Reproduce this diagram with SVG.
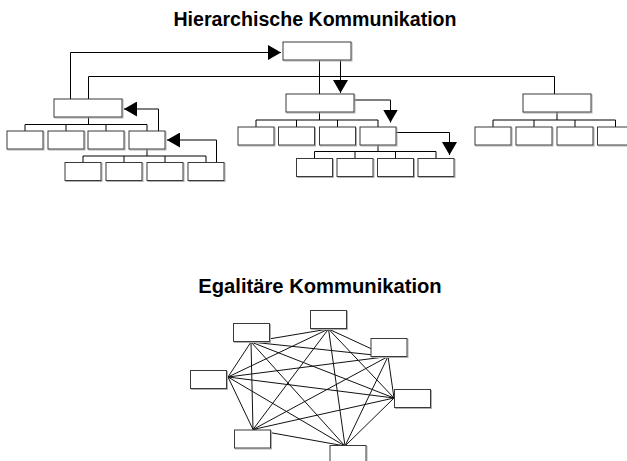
<svg xmlns="http://www.w3.org/2000/svg" width="627" height="461" viewBox="0 0 627 461">
  <style>
    .title { font-family: "Liberation Sans", Arial, sans-serif; font-weight: bold; fill: #000; text-anchor: middle; }
    .box { fill: #fff; stroke: #3a3a3a; stroke-width: 1; }
    .shadow { fill: none; stroke: #b0b0b0; stroke-width: 1; }
    .wire { fill: none; stroke: #000; stroke-width: 1; }
    .arrow { fill: none; stroke: #000; stroke-width: 1; marker-end: url(#head); }
    .mesh line { stroke: #111; stroke-width: 1; }
  </style>
  <defs>
    <marker id="head" viewBox="0 0 13 15" refX="13" refY="7.5" markerWidth="13" markerHeight="15" markerUnits="userSpaceOnUse" orient="auto">
      <path d="M0,0 L13,7.5 L0,15 Z" fill="#000"/>
    </marker>
    <g id="boxS">
      <rect class="shadow" x="1" y="1" width="36" height="18"/>
      <rect class="box" x="0" y="0" width="36" height="18"/>
    </g>
    <g id="boxL">
      <rect class="shadow" x="1" y="1" width="68" height="18"/>
      <rect class="box" x="0" y="0" width="68" height="18"/>
    </g>
  </defs>

  <rect width="627" height="461" fill="#fff"/>

  <text class="title" x="315" y="25.7" font-size="19.6">Hierarchische Kommunikation</text>
  <text class="title" x="320" y="293.3" font-size="20.2">Egalitäre Kommunikation</text>

  <!-- hierarchy: connectors -->
  <g id="hierarchy-connectors">
    <path class="wire" d="M319.5,60 V94"/>
    <path class="wire" d="M88.5,99 V76.5 H554.5 V94"/>
    <!-- left branch -->
    <path class="wire" d="M88.5,117 V124.5 M25,131 V124.5 H147 V131 M66,124.5 V131 M106,124.5 V131"/>
    <path class="wire" d="M147,149 V156 M83,162.5 V156 H206 V162.5 M124,156 V162.5 M165,156 V162.5"/>
    <!-- middle branch -->
    <path class="wire" d="M319.5,112 V120 M256,127 V120 H378 V127 M296.5,120 V127 M337.5,120 V127"/>
    <path class="wire" d="M378,145 V151.5 M314.5,158.5 V151.5 H436 V158.5 M355,151.5 V158.5 M395.5,151.5 V158.5"/>
    <!-- right branch -->
    <path class="wire" d="M557,112 V120 M493,127 V120 H615.5 V127 M534,120 V127 M575,120 V127"/>
    <!-- arrows -->
    <path class="arrow" d="M70.5,99 V52.5 H281"/>
    <path class="arrow" d="M340.5,60 V93"/>
    <path class="arrow" d="M158.5,131 V109 H124"/>
    <path class="arrow" d="M216.5,162.5 V140 H167"/>
    <path class="arrow" d="M353,100 H390.5 V122.5"/>
    <path class="arrow" d="M396,132.5 H449.5 V155"/>
  </g>

  <!-- hierarchy: nodes -->
  <g id="h-top"><use href="#boxL" x="283" y="42"/></g>
  <g id="h-left"><use href="#boxL" x="54" y="99"/></g>
  <g id="h-mid"><use href="#boxL" x="286" y="94"/></g>
  <g id="h-right"><use href="#boxL" x="523" y="94"/></g>

  <g id="h-left-1"><use href="#boxS" x="7" y="131"/></g>
  <g id="h-left-2"><use href="#boxS" x="48" y="131"/></g>
  <g id="h-left-3"><use href="#boxS" x="88" y="131"/></g>
  <g id="h-left-4"><use href="#boxS" x="129" y="131"/></g>
  <g id="h-left-4-1"><use href="#boxS" x="65" y="162.5"/></g>
  <g id="h-left-4-2"><use href="#boxS" x="106" y="162.5"/></g>
  <g id="h-left-4-3"><use href="#boxS" x="147" y="162.5"/></g>
  <g id="h-left-4-4"><use href="#boxS" x="188" y="162.5"/></g>

  <g id="h-mid-1"><use href="#boxS" x="238" y="127"/></g>
  <g id="h-mid-2"><use href="#boxS" x="278.5" y="127"/></g>
  <g id="h-mid-3"><use href="#boxS" x="319.5" y="127"/></g>
  <g id="h-mid-4"><use href="#boxS" x="360" y="127"/></g>
  <g id="h-mid-4-1"><use href="#boxS" x="296.5" y="158.5"/></g>
  <g id="h-mid-4-2"><use href="#boxS" x="337" y="158.5"/></g>
  <g id="h-mid-4-3"><use href="#boxS" x="377.5" y="158.5"/></g>
  <g id="h-mid-4-4"><use href="#boxS" x="418" y="158.5"/></g>

  <g id="h-right-1"><use href="#boxS" x="475" y="127"/></g>
  <g id="h-right-2"><use href="#boxS" x="516" y="127"/></g>
  <g id="h-right-3"><use href="#boxS" x="557" y="127"/></g>
  <g id="h-right-4"><use href="#boxS" x="597.5" y="127"/></g>

  <!-- egalitarian network: every node linked to every other -->
  <g id="mesh-connectors" class="mesh">
    <line x1="251" y1="342" x2="228" y2="377"/>
    <line x1="251" y1="342" x2="253" y2="429.5"/>
    <line x1="251" y1="342" x2="328.5" y2="329"/>
    <line x1="251" y1="342" x2="388" y2="356.5"/>
    <line x1="251" y1="342" x2="394" y2="398"/>
    <line x1="251" y1="342" x2="345" y2="446"/>
    <line x1="228" y1="377" x2="253" y2="429.5"/>
    <line x1="228" y1="377" x2="328.5" y2="329"/>
    <line x1="228" y1="377" x2="388" y2="356.5"/>
    <line x1="228" y1="377" x2="394" y2="398"/>
    <line x1="228" y1="377" x2="345" y2="446"/>
    <line x1="253" y1="429.5" x2="328.5" y2="329"/>
    <line x1="253" y1="429.5" x2="388" y2="356.5"/>
    <line x1="253" y1="429.5" x2="394" y2="398"/>
    <line x1="253" y1="429.5" x2="345" y2="446"/>
    <line x1="328.5" y1="329" x2="388" y2="356.5"/>
    <line x1="328.5" y1="329" x2="394" y2="398"/>
    <line x1="328.5" y1="329" x2="345" y2="446"/>
    <line x1="388" y1="356.5" x2="394" y2="398"/>
    <line x1="388" y1="356.5" x2="345" y2="446"/>
    <line x1="394" y1="398" x2="345" y2="446"/>
  </g>

  <g id="e-a"><use href="#boxS" x="233.5" y="323.5"/></g>
  <g id="e-b"><use href="#boxS" x="190.5" y="370.5"/></g>
  <g id="e-c"><use href="#boxS" x="234.5" y="430"/></g>
  <g id="e-d"><use href="#boxS" x="310.5" y="310.5"/></g>
  <g id="e-e"><use href="#boxS" x="371" y="338.5"/></g>
  <g id="e-f"><use href="#boxS" x="394.5" y="389.5"/></g>
  <g id="e-g"><use href="#boxS" x="330" y="445.5"/></g>
</svg>
